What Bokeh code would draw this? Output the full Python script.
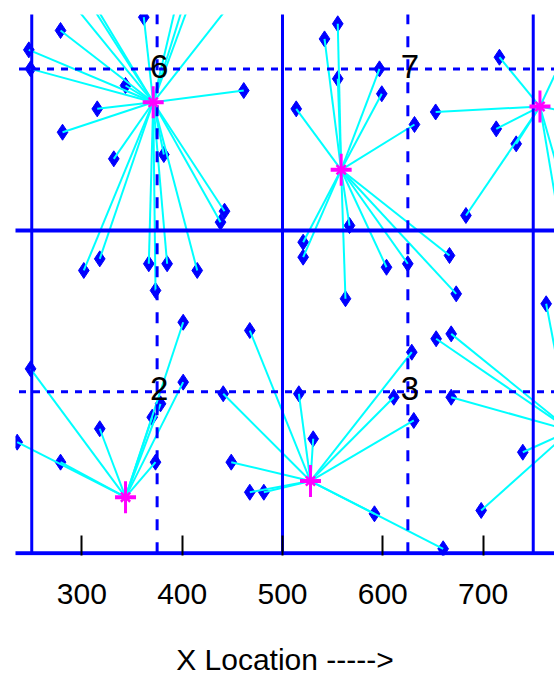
import math
from bokeh.plotting import figure
from bokeh.models import FixedTicker
from bokeh.core.properties import value
from bokeh.embed import file_html
from bokeh.resources import INLINE

# ---- cluster heads (magenta stars) ----
ch_x = [371.1, 558.5, 756.7, 343.5, 527.9, 787.1]
ch_y = [349.3, 297.0, 346.0, 43.4, 55.9, 95.0]

# ---- sensor nodes, grouped by the cluster head they join ----
nodes_a_x = [361.7, 278.7, 247.1, 248.8, 343.5, 461.4, 315.3, 280.7, 331.8, 381.7,
             442.2, 438.2, 301.9, 317.8, 366.7, 385.0, 415.0, 373.4,
             280.1, 280.9, 295.2, 409.0, 404.2, 424.9, 474.4]
nodes_a_y = [415.2, 404.9, 389.9, 375.2, 362.3, 358.4, 344.2, 326.1, 305.5, 308.8,
             264.9, 256.4, 219.0, 228.0, 224.2, 224.2, 219.0, 203.5,
             435.9, 459.1, 447.5, 474.6, 432.0, 463.0, 451.4]

nodes_b_x = [555.1, 541.9, 555.1, 596.7, 599.0, 513.7, 631.6, 520.6, 520.6, 566.8,
             603.7, 624.9, 666.5, 673.2, 562.8]
nodes_b_y = [410.1, 398.4, 367.5, 375.2, 355.9, 344.2, 332.1, 240.9, 229.3, 253.8,
             221.5, 224.2, 230.6, 200.9, 197.1]

nodes_c_x = [716.3, 652.7, 713.1, 733.0, 682.9, 797.1, 807.1, 779.2, 792.1]
nodes_c_y = [384.2, 341.8, 328.7, 317.1, 261.6, 413.1, 338.3, 242.2, 250.0]

nodes_d_x = [248.8, 235.5, 278.7, 317.8, 373.4, 378.4, 370.1, 401.0, 401.0]
nodes_d_y = [142.8, 86.0, 70.5, 96.4, 70.5, 115.7, 105.3, 178.9, 132.5]

nodes_e_x = [440.9, 516.3, 611.0, 630.9, 530.6, 448.9, 467.4, 481.4, 591.7, 660.2,
             467.4, 628.9]
nodes_e_y = [123.5, 123.5, 120.8, 102.8, 88.6, 70.5, 47.2, 47.2, 30.5, 3.4,
             172.5, 155.7]

nodes_f_x = [653.2, 668.2, 668.2, 739.6, 698.1, 762.9]
nodes_f_y = [166.1, 169.9, 120.8, 78.2, 33.1, 193.2]

# ---- region grid and cell numbers ----
grid_solid = [0, 250, 500, 750, 1000]
grid_dashed = [125, 375, 625, 875]
cell_x = [375, 625, 375, 625]
cell_y = [375, 375, 125, 125]
cell_text = ["6", "7", "2", "3"]

x_ticks = [300, 400, 500, 600, 700]
x_title = "X Location ----->"

BLUE = "#0000FF"
CYAN = "#00FFFF"
MAGENTA = "#FF00FF"
FONT = "Liberation Sans"

groups = [(nodes_a_x, nodes_a_y), (nodes_b_x, nodes_b_y), (nodes_c_x, nodes_c_y),
          (nodes_d_x, nodes_d_y), (nodes_e_x, nodes_e_y), (nodes_f_x, nodes_f_y)]

nx, ny, hx, hy = [], [], [], []
for k, (gx, gy) in enumerate(groups):
    nx += gx
    ny += gy
    hx += [ch_x[k]] * len(gx)
    hy += [ch_y[k]] * len(gx)

p = figure(width=554, height=678,
           x_range=(233.8, 771.2), y_range=(-1.8, 417.3),
           output_backend="svg", toolbar_location=None,
           y_axis_location=None,
           min_border_left=15, min_border_right=0, min_border_top=14, min_border_bottom=123)
p.outline_line_color = None
p.grid.visible = False
p.background_fill_color = "white"
p.border_fill_color = "white"

# nodes
p.scatter(nx, ny, marker="diamond", size=16, fill_color=BLUE, line_color=BLUE)
# node -> cluster head links
p.segment(x0=nx, y0=ny, x1=hx, y1=hy, line_color=CYAN, line_width=2)

# grid
for g in grid_solid:
    p.segment(x0=[g], y0=[0], x1=[g], y1=[1000], line_color=BLUE, line_width=3)
    p.segment(x0=[0], y0=[g], x1=[1000], y1=[g], line_color=BLUE, line_width=4)
for g in grid_dashed:
    p.segment(x0=[g], y0=[0], x1=[g], y1=[1000], line_color=BLUE, line_width=3,
              line_dash="11 12")
    p.segment(x0=[0], y0=[g], x1=[1000], y1=[g], line_color=BLUE, line_width=3,
              line_dash="7 7")

# cluster heads (asterisk made of a wide dash, tall dash, and short x)
p.scatter(ch_x, ch_y, marker="dash", size=21, line_color=MAGENTA, line_width=4)
p.scatter(ch_x, ch_y, marker="dash", angle=math.pi / 2, size=32, line_color=MAGENTA, line_width=3)
p.scatter(ch_x, ch_y, marker="x", size=13, line_color=MAGENTA, line_width=2.5)

# cell numbers
p.text(cell_x, cell_y, text=cell_text, text_font=value(FONT), text_font_size="33px",
       text_align="center", text_baseline="middle", text_color="black",
       x_offset=2, y_offset=-3)

ax = p.xaxis[0]
ax.ticker = FixedTicker(ticks=x_ticks)
ax.axis_line_color = None
ax.major_tick_in = 20
ax.major_tick_out = 0
ax.major_tick_line_color = "black"
ax.major_tick_line_width = 2
ax.minor_tick_line_color = None
ax.major_label_text_font = FONT
ax.major_label_text_font_size = "30px"
ax.major_label_text_color = "black"
ax.major_label_standoff = 28
ax.axis_label = x_title
ax.axis_label_text_font = FONT
ax.axis_label_text_font_size = "30px"
ax.axis_label_text_font_style = "normal"
ax.axis_label_text_color = "black"
ax.axis_label_standoff = 36

open("out.html", "w").write(file_html(p, INLINE))
